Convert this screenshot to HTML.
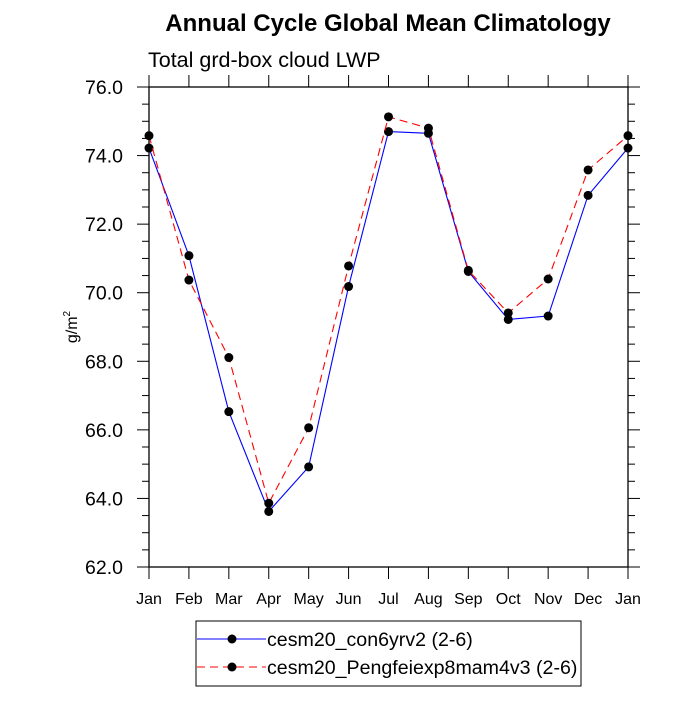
<!DOCTYPE html>
<html><head><meta charset="utf-8"><style>body{margin:0;background:#fff}svg{font-family:"Liberation Sans",sans-serif}</style></head>
<body>
<svg id="c" width="700" height="700" xmlns="http://www.w3.org/2000/svg">
<text x="388" y="31" font-size="24" font-weight="bold" text-anchor="middle">Annual Cycle Global Mean Climatology</text>
<text x="148" y="67" font-size="21.5">Total grd-box cloud LWP</text>
<text transform="translate(77,327) rotate(-90)" font-size="16" text-anchor="middle">g/m<tspan font-size="10" dy="-7">2</tspan></text>
<g id="axes"></g>
<g id="series"></g>
<g>
<rect x="196" y="621" width="385" height="65" fill="#fff" stroke="#000"/>
<g><line x1="197" y1="639" x2="266" y2="639" stroke="#00f"/><circle cx="232" cy="639" r="4.5"/><text x="267" y="646" font-size="19.6">cesm20_con6yrv2 (2-6)</text></g>
<g><line x1="197" y1="667" x2="266" y2="667" stroke="#f00" stroke-dasharray="8,5"/><circle cx="232" cy="667" r="4.5"/><text x="267" y="674" font-size="19.6">cesm20_Pengfeiexp8mam4v3 (2-6)</text></g>
</g>
</svg>
<script>
const months=["Jan","Feb","Mar","Apr","May","Jun","Jul","Aug","Sep","Oct","Nov","Dec","Jan"];
const blueValues=[74.22,71.08,66.53,63.62,64.92,70.18,74.70,74.65,70.62,69.22,69.32,72.84,74.22];
const redValues=[74.58,70.37,68.11,63.86,66.06,70.78,75.13,74.80,70.65,69.41,70.40,73.58,74.58];
const yTicks=[62,64,66,68,70,72,74,76];
const X0=149,X1=628,Y0=567,Y1=87,YMIN=62,YMAX=76;
const NS="http://www.w3.org/2000/svg";
const xs=i=>X0+(X1-X0)*i/(months.length-1);
const ys=v=>Y0-(v-YMIN)/(YMAX-YMIN)*(Y0-Y1);
function mk(t,a,p){const e=document.createElementNS(NS,t);for(const k in a)e.setAttribute(k,a[k]);p.appendChild(e);return e;}
const ax=document.getElementById('axes');
const fr=mk('rect',{x:X0,y:Y1,width:X1-X0,height:Y0-Y1,fill:'none',stroke:'#000','stroke-width':1.3},ax);


for(let v=YMIN;v<=YMAX+1e-9;v+=0.5){const maj=Math.abs(v%2)<1e-9;const L=maj?12:7;const y=ys(v);
mk('line',{x1:X0-L,y1:y,x2:X0,y2:y,stroke:'#000'},ax);mk('line',{x1:X1,y1:y,x2:X1+L,y2:y,stroke:'#000'},ax);}
yTicks.forEach(v=>{const t=mk('text',{x:123,y:ys(v)+7,'font-size':19.5,'text-anchor':'end'},ax);t.textContent=v.toFixed(1);

});
months.forEach((m,i)=>{const x=xs(i);mk('line',{x1:x,y1:Y0,x2:x,y2:Y0+12,stroke:'#000'},ax);mk('line',{x1:x,y1:Y1-12,x2:x,y2:Y1,stroke:'#000'},ax);
const t=mk('text',{x:x,y:604,'font-size':16,'text-anchor':'middle'},ax);t.textContent=m;

});
const sg=document.getElementById('series');
function series(vals,color,dash,name){const g=mk('g',{},sg);


mk('polyline',{points:vals.map((v,i)=>xs(i)+','+ys(v)).join(' '),fill:'none',stroke:color,'stroke-width':1.1,'stroke-dasharray':dash},g);
vals.forEach((v,i)=>{const c=mk('circle',{cx:xs(i),cy:ys(v),r:4.5,fill:'#000'},g);

});}
series(blueValues,'#00f','none','series-con6yrv2');
series(redValues,'#f00','8,5','series-pengfei');
</script>
</body></html>
